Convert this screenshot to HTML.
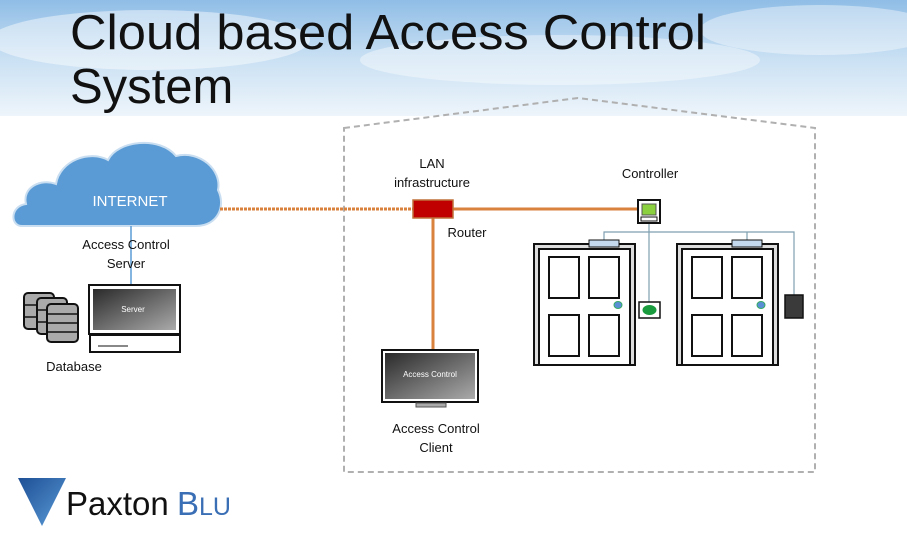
<!DOCTYPE html>
<html><head><meta charset="utf-8"><style>
html,body{margin:0;padding:0;background:#fff;}
svg{display:block;font-family:"Liberation Sans","DejaVu Sans",sans-serif;}
</style></head><body>
<svg width="907" height="540" viewBox="0 0 907 540" xmlns="http://www.w3.org/2000/svg">
<defs>
<linearGradient id="sky" x1="0" y1="0" x2="0" y2="1">
<stop offset="0" stop-color="#8fbde6"/><stop offset="0.5" stop-color="#c9e0f3"/><stop offset="1" stop-color="#eef5fb"/>
</linearGradient>
<linearGradient id="scr" x1="0" y1="0" x2="1" y2="1">
<stop offset="0" stop-color="#2a2a2a"/><stop offset="0.5" stop-color="#6a6a6a"/><stop offset="1" stop-color="#aaa"/>
</linearGradient>
<linearGradient id="tri" x1="0" y1="0" x2="1" y2="1">
<stop offset="0" stop-color="#1d4f95"/><stop offset="1" stop-color="#5b9bd8"/>
</linearGradient>
</defs>
<rect x="0" y="0" width="907" height="116" fill="url(#sky)"/>
<ellipse cx="150" cy="40" rx="160" ry="30" fill="#fff" opacity="0.45"/>
<ellipse cx="560" cy="60" rx="200" ry="25" fill="#fff" opacity="0.4"/>
<ellipse cx="820" cy="30" rx="120" ry="25" fill="#fff" opacity="0.4"/>
<text x="70" y="49" font-size="49" fill="#111" textLength="636" lengthAdjust="spacingAndGlyphs">Cloud based Access Control</text>
<text x="70" y="103" font-size="49" fill="#111">System</text>

<path d="M344,128 L578,98 L815,128 L815,472 L344,472 Z" fill="none" stroke="#b0b0b0" stroke-width="2" stroke-dasharray="6,4"/>

<path d="M22,226 C10,226 10,206 26,204 C22,188 40,178 56,184 C60,160 90,150 108,160 C118,140 160,136 176,156 C200,150 222,170 218,190 C226,206 218,226 196,226 Z" fill="#5b9bd5" stroke="#c9def1" stroke-width="2"/>
<text x="130" y="206" font-size="15" fill="#fff" text-anchor="middle">INTERNET</text>
<line x1="220" y1="209" x2="413" y2="209" stroke="#d9823e" stroke-width="3" stroke-dasharray="3,1"/>
<line x1="131" y1="226" x2="131" y2="286" stroke="#5b9bd5" stroke-width="1.5"/>
<text x="126" y="249" font-size="13" fill="#111" text-anchor="middle">Access Control</text>
<text x="126" y="268" font-size="13" fill="#111" text-anchor="middle">Server</text>

<rect x="89" y="285" width="91" height="49" fill="#fff" stroke="#111" stroke-width="2"/>
<rect x="93" y="289" width="83" height="41" fill="url(#scr)"/>
<text x="133" y="312" font-size="8" fill="#fff" text-anchor="middle">Server</text>
<rect x="90" y="335" width="90" height="17" fill="#fff" stroke="#111" stroke-width="2"/>
<line x1="98" y1="346" x2="128" y2="346" stroke="#111"/>

<g fill="#aaa" stroke="#111" stroke-width="2">
<rect x="24" y="293" width="30" height="36" rx="4"/>
<rect x="37" y="298" width="30" height="36" rx="4"/>
<rect x="47" y="304" width="31" height="38" rx="4"/>
</g>
<g stroke="#111" stroke-width="1.5">
<line x1="24" y1="305" x2="37" y2="305"/><line x1="24" y1="317" x2="37" y2="317"/>
<line x1="37" y1="310" x2="47" y2="310"/><line x1="37" y1="322" x2="47" y2="322"/>
<line x1="47" y1="314" x2="78" y2="314"/><line x1="47" y1="323" x2="78" y2="323"/><line x1="47" y1="332" x2="78" y2="332"/>
</g>
<text x="74" y="371" font-size="13" fill="#111" text-anchor="middle">Database</text>

<text x="432" y="168" font-size="13" fill="#111" text-anchor="middle">LAN</text>
<text x="432" y="187" font-size="13" fill="#111" text-anchor="middle">infrastructure</text>
<line x1="453" y1="209" x2="638" y2="209" stroke="#d9823e" stroke-width="3"/>
<line x1="433" y1="218" x2="433" y2="350" stroke="#d9823e" stroke-width="3"/>
<rect x="413" y="200" width="40" height="18" fill="#c00000" stroke="#c0703a" stroke-width="1.5"/>
<text x="467" y="237" font-size="13" fill="#111" text-anchor="middle">Router</text>

<rect x="382" y="350" width="96" height="52" fill="#fff" stroke="#111" stroke-width="2"/>
<rect x="385" y="353" width="90" height="46" fill="url(#scr)"/>
<text x="430" y="377" font-size="8" fill="#fff" text-anchor="middle">Access Control</text>
<rect x="416" y="403" width="30" height="4" fill="#aaa" stroke="#555"/>
<text x="436" y="433" font-size="13" fill="#111" text-anchor="middle">Access Control</text>
<text x="436" y="452" font-size="13" fill="#111" text-anchor="middle">Client</text>

<text x="650" y="178" font-size="13" fill="#111" text-anchor="middle">Controller</text>

<g stroke="#7f9fb0" stroke-width="1.2" fill="none">
<line x1="649" y1="223" x2="649" y2="303"/>
<polyline points="604,242 604,232 794,232 794,296"/>
<line x1="747" y1="232" x2="747" y2="242"/>
</g>

<rect x="638" y="200" width="22" height="23" fill="#fff" stroke="#111" stroke-width="2"/>
<rect x="642" y="204" width="14" height="11" fill="#8bd13f" stroke="#555"/>
<rect x="641" y="217" width="16" height="4" fill="#fff" stroke="#111"/>

<g id="door">
<rect x="534" y="244" width="101" height="121" fill="#ddd" stroke="#111" stroke-width="2"/>
<rect x="539" y="249" width="91" height="116" fill="#fff" stroke="#111" stroke-width="2"/>
<rect x="589" y="240" width="30" height="7" fill="#c5d9ee" stroke="#111"/>
<g fill="#fff" stroke="#111" stroke-width="2">
<rect x="549" y="257" width="30" height="41"/><rect x="589" y="257" width="30" height="41"/>
<rect x="549" y="315" width="30" height="41"/><rect x="589" y="315" width="30" height="41"/>
</g>
<ellipse cx="618" cy="305" rx="4" ry="3.5" fill="#5b8fd5" stroke="#3a6"/>
</g>
<use href="#door" transform="translate(143,0)"/>

<rect x="639" y="302" width="21" height="16" fill="#fff" stroke="#111" stroke-width="1.5"/>
<ellipse cx="649.5" cy="310" rx="7" ry="5" fill="#1a9c3e"/>
<rect x="785" y="295" width="18" height="23" fill="#3a3a3a" stroke="#111" stroke-width="1.5"/>

<polygon points="18,478 66,478 42,526" fill="url(#tri)"/>
<text x="66" y="515" font-size="33" fill="#111">Paxton</text>
<text x="177" y="515" font-size="33" fill="#3a6fb5">B<tspan font-size="25">LU</tspan></text>
</svg>
</body></html>
